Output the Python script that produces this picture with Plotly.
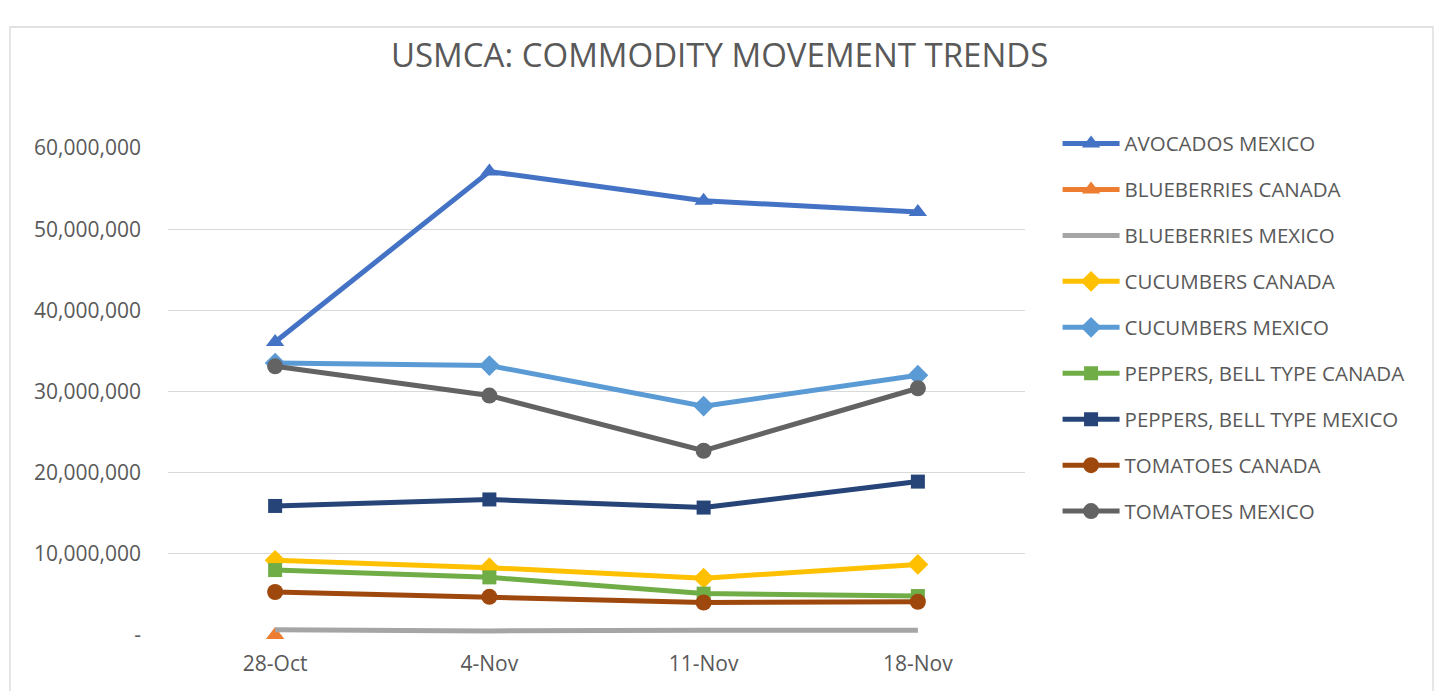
import plotly.graph_objects as go

weeks = ["28-Oct", "4-Nov", "11-Nov", "18-Nov"]

avocados_mexico = [36100000, 57100000, 53500000, 52100000]
blueberries_canada = [0, None, None, None]
blueberries_mexico = [650000, 500000, 600000, 600000]
cucumbers_canada = [9200000, 8300000, 7000000, 8700000]
cucumbers_mexico = [33500000, 33200000, 28200000, 32000000]
peppers_canada = [8000000, 7100000, 5100000, 4800000]
peppers_mexico = [15900000, 16700000, 15700000, 18900000]
tomatoes_canada = [5300000, 4700000, 4000000, 4100000]
tomatoes_mexico = [33100000, 29500000, 22700000, 30400000]

y_tick_values = [0, 10000000, 20000000, 30000000, 40000000, 50000000, 60000000]
y_tick_labels = ["-", "10,000,000", "20,000,000", "30,000,000", "40,000,000", "50,000,000", "60,000,000"]

series = [
    ("AVOCADOS MEXICO", avocados_mexico, "#4472C4", "triangle-up"),
    ("BLUEBERRIES CANADA", blueberries_canada, "#ED7D31", "triangle-up"),
    ("BLUEBERRIES MEXICO", blueberries_mexico, "#A5A5A5", None),
    ("CUCUMBERS CANADA", cucumbers_canada, "#FFC000", "diamond"),
    ("CUCUMBERS MEXICO", cucumbers_mexico, "#5B9BD5", "diamond"),
    ("PEPPERS, BELL TYPE CANADA", peppers_canada, "#70AD47", "square"),
    ("PEPPERS, BELL TYPE MEXICO", peppers_mexico, "#264478", "square"),
    ("TOMATOES CANADA", tomatoes_canada, "#9E480E", "circle"),
    ("TOMATOES MEXICO", tomatoes_mexico, "#636363", "circle"),
]

fig = go.Figure()
for i, (name, vals, color, sym) in enumerate(series):
    if sym is None:
        mode = "lines"
        marker = dict()
    else:
        mode = "lines+markers"
        marker = dict(symbol=sym, size=16 if sym != "square" else 14, color=color)
    fig.add_trace(go.Scatter(
        x=weeks, y=vals, name=name, mode=mode,
        line=dict(color=color, width=5),
        marker=marker, legendgroup=f"g{i}", cliponaxis=False,
    ))

font_family = "Open Sans, Liberation Sans, Arial, sans-serif"
fig.update_layout(
    width=1445, height=691,
    margin=dict(l=168, r=420, t=148, b=56),
    paper_bgcolor="white", plot_bgcolor="white",
    title=dict(text="USMCA: COMMODITY MOVEMENT TRENDS", x=0.498, xanchor="center",
               y=0.92, yanchor="middle",
               font=dict(family=font_family, size=33, color="#595959")),
    font=dict(family=font_family, size=21, color="#595959"),
    showlegend=True,
    legend=dict(x=1.038, y=1.05, xanchor="left", yanchor="top",
                traceorder="grouped", tracegroupgap=16.3, itemwidth=57,
                font=dict(size=20.5, color="#595959"), bgcolor="rgba(0,0,0,0)"),
    xaxis=dict(type="category", range=[-0.5, 3.5], showgrid=False, showline=False,
               ticks="", tickfont=dict(size=21, color="#595959"),
               ticklabelstandoff=14),
    yaxis=dict(range=[0, 60000000], tickvals=y_tick_values, ticktext=y_tick_labels,
               showgrid=True, gridcolor="#D9D9D9", gridwidth=1.3, zeroline=False,
               showline=False, ticks="", tickfont=dict(size=21, color="#595959"),
               ticklabelstandoff=26),
    shapes=[dict(type="rect", xref="paper", yref="paper",
                 x0=(10 - 168) / 857, x1=(1433 - 168) / 857,
                 y0=(635 - 700) / 487, y1=(635 - 27) / 487,
                 line=dict(color="#D9D9D9", width=1.3), fillcolor="rgba(0,0,0,0)", layer="below")],
)
try:
    fig.update_layout(legend_maxheight=600)
except Exception:
    fig.update_layout(legend_y=1.0)

fig.write_html("out.html", config={"displayModeBar": False})
with open("out.html", "r", encoding="utf-8") as f:
    html = f.read()
html = html.replace("<body>", '<body style="margin:0;padding:0;overflow:hidden">', 1)
with open("out.html", "w", encoding="utf-8") as f:
    f.write(html)
